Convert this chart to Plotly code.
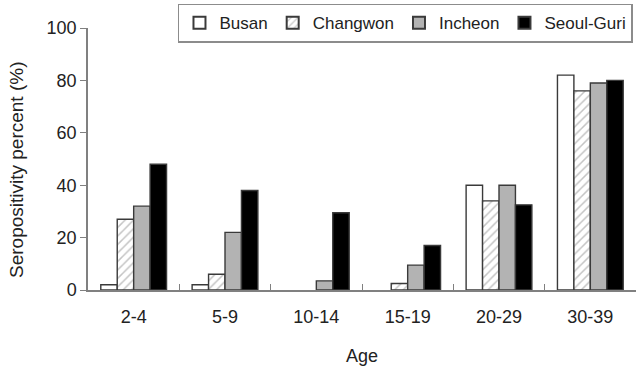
import plotly.graph_objects as go

# Age groups and seropositivity (%) per region
age_groups = ["2-4", "5-9", "10-14", "15-19", "20-29", "30-39"]
busan = [2, 2, 0, 0, 40, 82]
changwon = [27, 6, 0, 2.5, 34, 76]
incheon = [32, 22, 3.5, 9.5, 40, 79]
seoul_guri = [48, 38, 29.5, 17, 32.5, 80]

FONT = "Arial, Liberation Sans, sans-serif"


def outline(values):
    # no outline for empty bars so nothing is drawn on the axis
    return dict(color="#3a3a3a", width=[0 if v == 0 else 1.4 for v in values])


fig = go.Figure()
fig.add_bar(name="Busan", x=age_groups, y=busan,
            marker=dict(color="white", line=outline(busan)))
fig.add_bar(name="Changwon", x=age_groups, y=changwon,
            marker=dict(color="white", line=outline(changwon),
                        pattern=dict(shape="/", fgcolor="#8a8a8a", bgcolor="white",
                                     size=6, solidity=0.25)))
fig.add_bar(name="Incheon", x=age_groups, y=incheon,
            marker=dict(color="#b3b3b3", line=outline(incheon)))
fig.add_bar(name="Seoul-Guri", x=age_groups, y=seoul_guri,
            marker=dict(color="black", line=outline(seoul_guri)))

fig.update_layout(
    width=636, height=369,
    margin=dict(l=88, r=0, t=28, b=79, autoexpand=False),
    paper_bgcolor="white", plot_bgcolor="white",
    font=dict(family=FONT, size=18, color="#222222"),
    barmode="group", bargap=0.28, bargroupgap=0,
    showlegend=True,
    legend=dict(orientation="h", x=0.9945, xanchor="right", y=1.093, yanchor="top",
                bordercolor="#8c8c8c", borderwidth=1.5, bgcolor="white",
                font=dict(size=17), itemsizing="constant", tracegroupgap=0),
)
fig.update_xaxes(
    showline=True, linecolor="#808080", linewidth=1.5,
    ticks="inside", tickson="boundaries", ticklen=6, tickcolor="#808080",
    tickfont=dict(size=18), ticklabelstandoff=10, showgrid=False,
    title=dict(text="Age", font=dict(size=18), standoff=23),
)
fig.update_yaxes(
    range=[0, 100], dtick=20, showline=True, linecolor="#808080", linewidth=1.5,
    ticks="outside", ticklen=6, tickcolor="#808080", showgrid=False, zeroline=False,
    tickfont=dict(size=18),
)
# Vertical axis caption, placed beside the tick labels
fig.add_annotation(
    text="Seropositivity percent (%)", textangle=-90, showarrow=False,
    xref="paper", yref="paper", x=-0.1314, y=0.458,
    xanchor="center", yanchor="middle", font=dict(size=19),
)

fig.write_html("out.html")
